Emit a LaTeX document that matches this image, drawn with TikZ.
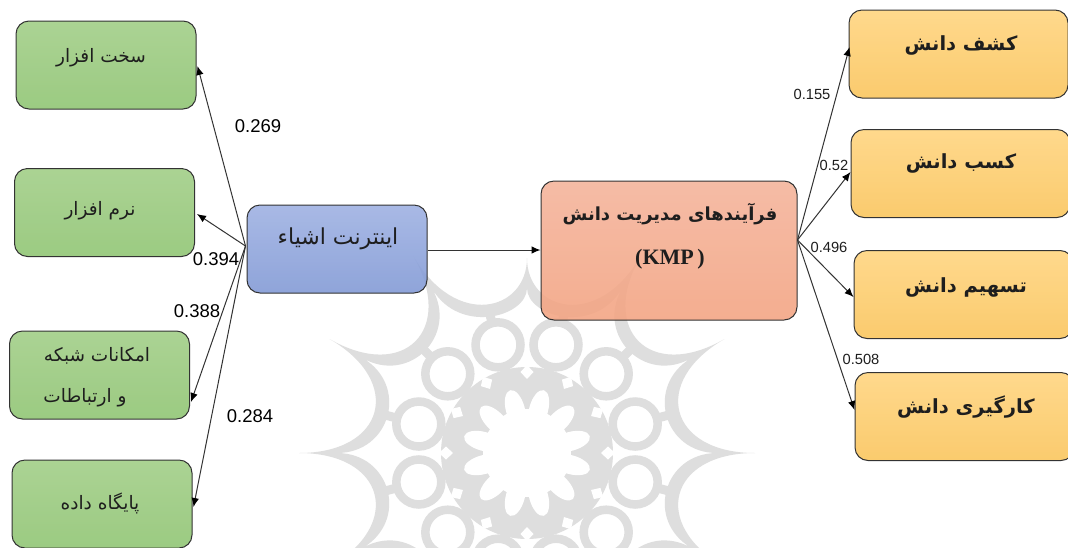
\documentclass[tikz,border=0pt]{standalone}
\usepackage{fontspec}
\usetikzlibrary{arrows.meta,calc}
\setmainfont{Liberation Sans}
\newfontfamily\arabicfont[Script=Arabic]{DejaVu Sans}
\newfontfamily\kmpfont{Liberation Serif}
\TeXXeTstate=1
\definecolor{wm}{HTML}{DEDEDE}
\definecolor{edgeline}{HTML}{333333}
\definecolor{ink}{HTML}{1E1E1E}
\definecolor{gTop}{HTML}{A0CD85}
\definecolor{gBot}{HTML}{8EC471}
\definecolor{bTop}{HTML}{9DB0E2}
\definecolor{bBot}{HTML}{8098D5}
\definecolor{sTop}{HTML}{F4B39A}
\definecolor{sBot}{HTML}{F3A381}
\definecolor{oTop}{HTML}{FFD47D}
\definecolor{oBot}{HTML}{FAC45A}
\tikzset{
  boxbase/.style={draw=edgeline,line width=1pt,rounded corners=13pt,inner sep=0pt,fill opacity=0.88,draw opacity=1},
  greenbox/.style={boxbase,minimum width=180pt,minimum height=88pt,top color=gTop,bottom color=gBot},
  bluebox/.style={boxbase,minimum width=180pt,minimum height=88pt,top color=bTop,bottom color=bBot},
  salmonbox/.style={boxbase,minimum width=256pt,minimum height=139pt,top color=sTop,bottom color=sBot},
  orangebox/.style={boxbase,minimum width=219pt,minimum height=88pt,top color=oTop,bottom color=oBot},
  label fa/.style={text=ink,inner sep=0pt,font=\arabicfont\fontsize{18.5}{20}\selectfont},
  mid fa/.style={text=ink,inner sep=0pt,font=\arabicfont\fontsize{22}{24}\selectfont},
  head fa/.style={text=ink,inner sep=0pt,font=\arabicfont\bfseries\fontsize{18}{20}\selectfont},
  side fa/.style={text=ink,inner sep=0pt,font=\arabicfont\bfseries\fontsize{19.5}{22}\selectfont},
  bignum/.style={text=black,inner sep=0pt,font=\fontsize{18.5}{20}\selectfont},
  smallnum/.style={text=ink,inner sep=0pt,font=\fontsize{14.7}{16}\selectfont},
  conn/.style={draw=edgeline,line width=1pt,-{Latex[length=9pt,width=7.5pt,black]}},
}
\begin{document}
\begin{tikzpicture}[x=1pt,y=-1pt]
\useasboundingbox (0,0) rectangle (1068,547);
\fill[white] (0,0) rectangle (1068,547);
\clip (0,0) rectangle (1068,547);
% watermark
\begin{scope}[shift={(527,453)}]
  \fill[wm,even odd rule]
    (0:228)
    \foreach \a/\r in {30/228,60/228,90/228,120/228,150/228,180/228,210/228,240/228,270/195,300/228,330/228,360/228}
      { .. controls (\a-30:142) and (\a:142) .. (\a:\r) } -- cycle
    (0:190)
    \foreach \a/\r in {30/190,60/190,90/190,120/190,150/190,180/190,210/190,240/190,270/165,300/190,330/190,360/190}
      { .. controls (\a-30:136) and (\a:136) .. (\a:\r) } -- cycle;
  \foreach \a in {15,45,...,345} \draw[wm,line width=9pt] (\a:125) -- (\a:152);
  \fill[wm] (0,0) circle (86);
  \foreach \a in {15,45,...,345} \draw[wm,line width=8.5pt,fill=white] (\a:112) circle (22.5);
  \foreach \a in {0,30,...,330} \fill[white,rotate=\a] (74,0) -- (81,-6.5) -- (88,0) -- (81,6.5) -- cycle;
  \fill[white] (0,0) circle (44);
  \foreach \a in {15,45,...,345} \fill[white,rotate=\a] (45,0) ellipse (20 and 9.5);
\end{scope}
% boxes
\node[greenbox] (g1) at (106,65) {};
\node[greenbox] (g2) at (104.5,212.5) {};
\node[greenbox] (g3) at (99.5,375) {};
\node[greenbox] (g4) at (102,504) {};
\node[bluebox] (iot) at (337,249) {};
\node[salmonbox] (kmp) at (669,250.5) {};
\node[orangebox] (o1) at (958.5,54) {};
\node[orangebox] (o2) at (960.5,173.5) {};
\node[orangebox] (o3) at (963.5,294.5) {};
\node[orangebox] (o4) at (964.5,416.5) {};
% free ends
\coordinate (g1in) at ($(g1.east)+(1,1)$);
\coordinate (g2in) at ($(g2.east)+(2,1.5)$);
\coordinate (g3in) at ($(g3.east)+(1,27)$);
\coordinate (g4in) at ($(g4.east)+(1,3)$);
\coordinate (iotout) at ($(iot.west)+(-1,-3)$);
\coordinate (iotright) at ($(iot.east)+(0,1)$);
\coordinate (kmpin) at ($(kmp.west)+(0,-0.5)$);
\coordinate (kmpout) at ($(kmp.east)+(0,-10.5)$);
\coordinate (o1in) at ($(o1.west)+(1,-7)$);
\coordinate (o2in) at ($(o2.west)+(0,-1.5)$);
\coordinate (o3in) at ($(o3.west)+(0,2.5)$);
\coordinate (o4in) at ($(o4.west)+(0,-6.5)$);
% connectors
\draw[conn] (iotout) -- (g1in);
\draw[conn] (iotout) -- (g2in);
\draw[conn] (iotout) -- (g3in);
\draw[conn] (iotout) -- (g4in);
\draw[conn] (iotright) -- (kmpin);
\draw[conn] (kmpout) -- (o1in);
\draw[conn] (kmpout) -- (o2in);
\draw[conn] (kmpout) -- (o3in);
\draw[conn] (kmpout) -- (o4in);
% texts
\node[label fa] (t1) at (101,58) {\beginR سخت افزار\endR};
\node[label fa] (t2) at (100,211) {\beginR نرم افزار\endR};
\node[label fa] (t3a) at (97,356) {\beginR امکانات شبکه\endR};
\node[label fa] (t3b) at (85,398) {\beginR و ارتباطات\endR};
\node[label fa] (t4) at (100,503) {\beginR پایگاه داده\endR};
\node[mid fa] (t5) at (338,239) {\beginR اینترنت اشیاء\endR};
\node[head fa] (t6) at (670,214) {\beginR فرآیندهای مدیریت دانش\endR};
\node[text=ink,inner sep=0pt,font=\kmpfont\bfseries\fontsize{22}{24}\selectfont] (t7) at (670,259) {(KMP\,)};
\node[side fa] (t8) at (961,45) {\beginR کشف دانش\endR};
\node[side fa] (t9) at (961,163) {\beginR کسب دانش\endR};
\node[side fa] (t10) at (966,287) {\beginR تسهیم دانش\endR};
\node[side fa] (t11) at (966,407) {\beginR کارگیری دانش\endR};
% numbers
\node[bignum] (n1) at (258,126) {0.269};
\node[bignum] (n2) at (216,259) {0.394};
\node[bignum] (n3) at (197,311) {0.388};
\node[bignum] (n4) at (250,416) {0.284};
\node[smallnum] (n5) at (812,94) {0.155};
\node[smallnum] (n6) at (834,165) {0.52};
\node[smallnum] (n7) at (829,247) {0.496};
\node[smallnum] (n8) at (861,359) {0.508};
\end{tikzpicture}
\end{document}
